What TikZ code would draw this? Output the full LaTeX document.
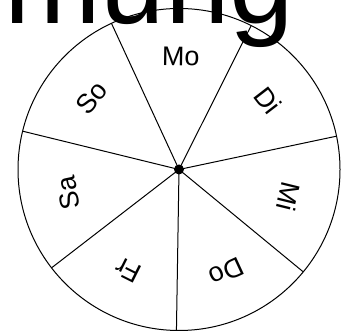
\documentclass[tikz,border=0pt]{standalone}
\usepackage{fontspec}
\setmainfont{Liberation Sans}
\usetikzlibrary{calc}
\begin{document}
\begin{tikzpicture}[x=1pt,y=1pt,
  daylabel/.style={font=\fontsize{27}{27}\selectfont, inner sep=0pt},
  spoke/.style={line width=1pt},
  rim/.style={line width=1pt},
  bigtitle/.style={font=\fontsize{116}{116}\selectfont, anchor=base west, inner sep=0pt},
]
\useasboundingbox (0,0) rectangle (342,331);
\coordinate (c) at (179,161.5);
\draw[rim] (c) circle (161);
\foreach \i [evaluate=\i as \ang using 114.8-51.4286*\i] in {0,...,6} {
  \coordinate (rim\i) at ($(c)+(\ang:161)$);
  \draw[spoke] (c) -- (rim\i);
}
\foreach \d [count=\i from 0, evaluate=\i as \mid using 89.1-51.4286*\i, evaluate=\i as \rot using 89.1-51.4286*\i-90] in {Mo,Di,Mi,Do,Fr,Sa,So} {
  \node[daylabel, rotate=\rot] (lbl\i) at ($(c)+(\mid:113)$) {\d};
}
\fill (c) circle (5);
\node[bigtitle] (title) at (4,307) {mung};
\end{tikzpicture}
\end{document}
